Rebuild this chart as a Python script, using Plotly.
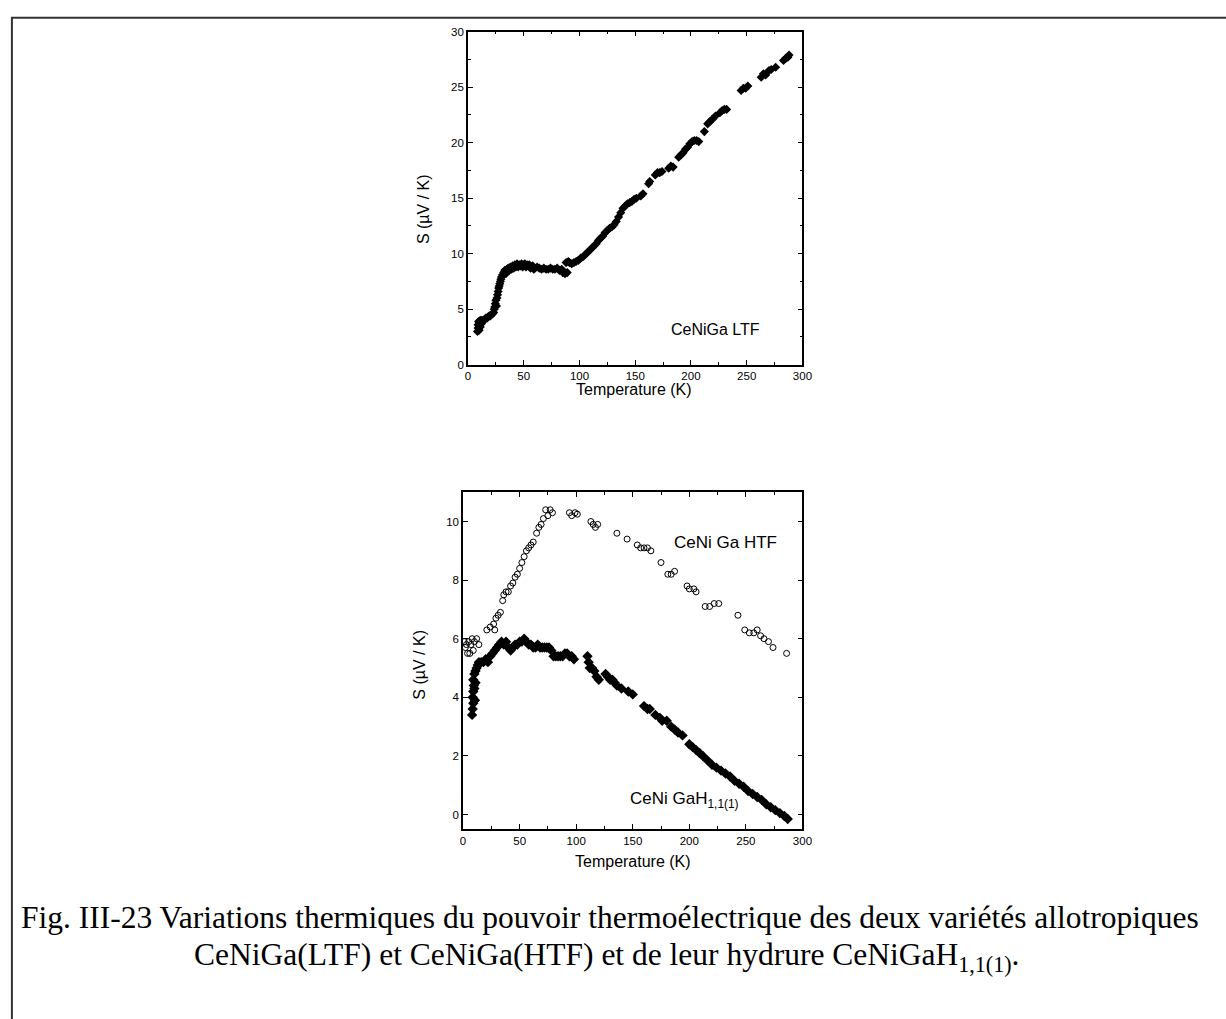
import plotly.graph_objects as go

# ---------------- data ----------------
ltf_T = [8.5, 9, 9, 9.5, 10, 10, 10.5, 11, 11, 12, 12.5, 13, 14, 15, 16, 17, 18, 19, 20, 21,
         22, 23, 23.5, 24, 24.5, 25, 25.5, 26, 26.5, 27, 27.5, 28, 28.5, 29, 29.5, 30, 31, 32, 33, 34,
         35, 36, 37, 38, 39, 40, 41, 42, 43, 44, 45, 46, 47, 48, 49, 50, 51, 52, 53, 54,
         55, 56, 57, 58, 59, 60, 62, 64, 66, 68, 70, 72, 74, 76, 78, 80, 82, 84, 85, 86,
         87, 88, 89, 90, 91, 93, 95, 97, 99, 101, 103, 105, 107, 109, 111, 113, 115, 117, 119, 121,
         123, 125, 127, 129, 131, 133, 135, 137, 139, 141, 143, 145, 147, 149, 151, 155, 157, 162, 163, 168,
         170, 172, 174, 180, 182, 184, 189, 191, 193, 195, 197, 199, 201, 203, 205, 207, 212, 215, 217, 219,
         222, 226, 228, 230, 232, 245, 247, 249, 251, 263, 265, 267, 270, 272, 276, 283, 285, 287, 288]
ltf_S = [3.0, 3.3, 3.6, 3.9, 3.1, 3.5, 3.8, 4.0, 3.4, 3.7, 4.0, 3.9, 4.0, 4.1, 4.2, 4.2, 4.3, 4.4, 4.4, 4.5,
         4.6, 4.7, 5.0, 5.2, 5.5, 5.8, 5.3, 6.0, 6.3, 6.6, 6.9, 7.1, 7.3, 7.5, 7.7, 7.9, 8.1, 8.3, 8.5, 8.2,
         8.6, 8.7, 8.5, 8.8, 8.6, 8.9, 8.7, 9.0, 8.8, 9.1, 8.8, 9.0, 8.9, 9.1, 8.8, 9.0, 9.1, 8.8, 9.0, 8.9,
         9.0, 8.7, 8.8, 8.9, 8.6, 8.7, 8.8, 8.7, 8.6, 8.7, 8.6, 8.6, 8.7, 8.6, 8.6, 8.7, 8.5, 8.6, 8.3, 8.4,
         8.2, 9.2, 8.3, 9.3, 9.2, 9.1, 9.2, 9.3, 9.4, 9.6, 9.7, 9.9, 10.1, 10.3, 10.5, 10.7, 10.9, 11.2, 11.4, 11.6,
         11.9, 12.1, 12.3, 12.4, 12.6, 12.9, 13.3, 13.7, 14.1, 14.3, 14.5, 14.6, 14.7, 14.9, 15.0, 15.2, 15.4, 16.3, 16.5, 17.1,
         17.3, 17.3, 17.4, 17.7, 17.9, 17.8, 18.7, 18.9, 19.1, 19.4, 19.6, 19.9, 20.1, 20.2, 20.2, 20.1, 21.0, 21.7, 21.9, 22.1,
         22.4, 22.7, 22.9, 23.0, 23.0, 24.7, 24.9, 24.9, 25.1, 25.9, 26.2, 26.1, 26.5, 26.6, 26.8, 27.4, 27.6, 27.7, 27.9]

htf_T = [1, 2, 3, 4, 5, 6, 7, 8, 9, 10, 12, 14, 21, 24, 27, 28, 29, 31, 33, 35,
         36, 38, 40, 42, 44, 46, 48, 50, 52, 54, 56, 58, 60, 62, 65, 67, 69, 71, 73, 75,
         77, 79, 94, 96, 99, 101, 113, 115, 117, 119, 136, 145, 154, 157, 160, 163, 166, 175, 181, 184,
         187, 198, 200, 204, 206, 214, 218, 222, 226, 243, 249, 253, 257, 260, 263, 266, 270, 274, 286]
htf_S = [5.9, 5.7, 5.8, 5.5, 5.9, 5.5, 5.8, 6.0, 5.6, 5.9, 6.0, 5.8, 6.3, 6.4, 6.5, 6.3, 6.7, 6.8, 6.9, 7.3,
         7.5, 7.6, 7.6, 7.8, 7.9, 8.1, 8.2, 8.4, 8.6, 8.8, 9.0, 9.1, 9.2, 9.3, 9.6, 9.8, 9.9, 10.1, 10.4, 10.2,
         10.4, 10.3, 10.3, 10.2, 10.3, 10.25, 10.0, 9.9, 9.8, 9.9, 9.6, 9.4, 9.2, 9.1, 9.1, 9.1, 9.0, 8.6, 8.2, 8.2,
         8.3, 7.8, 7.7, 7.7, 7.6, 7.1, 7.1, 7.2, 7.2, 6.8, 6.3, 6.2, 6.2, 6.3, 6.1, 6.0, 5.9, 5.7, 5.5]

hyd_T = [8, 8.5, 9, 8.5, 9, 9.5, 9, 10, 10, 10.5, 11, 11, 12, 13, 14, 16, 18, 20, 22, 24,
         26, 28, 30, 32, 34, 36, 38, 40, 42, 44, 46, 48, 50, 52, 54, 56, 58, 60, 62, 64,
         66, 68, 70, 72, 74, 76, 78, 80, 82, 84, 86, 88, 90, 92, 94, 96, 98, 110, 111, 112,
         114, 116, 118, 120, 126, 128, 130, 132, 134, 136, 140, 146, 150, 160, 163, 165, 170, 174, 176, 180,
         184, 187, 190, 194, 200, 203, 206, 209, 212, 216, 220, 224, 228, 232, 236, 240, 244, 248, 252, 256,
         260, 264, 268, 272, 276, 280, 284, 287]
hyd_S = [3.4, 3.6, 3.8, 4.0, 4.2, 4.4, 4.6, 4.3, 4.8, 3.9, 4.5, 4.9, 5.0, 5.1, 5.2, 5.2, 5.2, 5.3, 5.2, 5.4,
         5.5, 5.6, 5.7, 5.8, 5.9, 5.8, 5.9, 5.7, 5.6, 5.7, 5.8, 5.8, 5.9, 5.9, 6.0, 5.9, 5.8, 5.8, 5.7, 5.7,
         5.8, 5.7, 5.7, 5.7, 5.7, 5.7, 5.6, 5.4, 5.4, 5.4, 5.4, 5.4, 5.5, 5.5, 5.4, 5.4, 5.3, 5.4, 5.2, 5.0,
         5.0, 4.9, 4.7, 4.6, 4.8, 4.7, 4.6, 4.6, 4.5, 4.4, 4.3, 4.2, 4.1, 3.7, 3.6, 3.6, 3.4, 3.3, 3.2, 3.2,
         3.0, 2.9, 2.8, 2.7, 2.4, 2.3, 2.2, 2.1, 2.0, 1.85, 1.7, 1.6, 1.5, 1.4, 1.3, 1.15, 1.05, 0.95, 0.8, 0.7,
         0.6, 0.5, 0.35, 0.25, 0.15, 0.05, -0.05, -0.15]

top_yticks = [0, 5, 10, 15, 20, 25, 30]
bot_yticks = [0, 2, 4, 6, 8, 10]
xticks = [0, 50, 100, 150, 200, 250, 300]

y_title = "S (µV / K)"
x_title = "Temperature (K)"
label_ltf = "CeNiGa LTF"
label_htf = "CeNi Ga HTF"
label_hyd = "CeNi GaH<sub>1,1(1)</sub>"
caption1 = "Fig. III-23 Variations thermiques du pouvoir thermoélectrique des deux variétés allotropiques"
caption2 = "CeNiGa(LTF) et CeNiGa(HTF) et de leur hydrure CeNiGaH<sub>1,1(1)</sub>."

# ---------------- figure ----------------
W, H = 1226, 1019
def px(x): return x / W
def py(y): return 1 - y / H

fig = go.Figure()
fig.add_trace(go.Scatter(x=ltf_T, y=ltf_S, mode="markers", xaxis="x", yaxis="y",
                         marker=dict(symbol="diamond", size=7, color="black"), showlegend=False))
fig.add_trace(go.Scatter(x=htf_T, y=htf_S, mode="markers", xaxis="x2", yaxis="y2",
                         marker=dict(symbol="circle-open", size=6, color="black", line=dict(width=1)),
                         showlegend=False))
fig.add_trace(go.Scatter(x=hyd_T, y=hyd_S, mode="markers", xaxis="x2", yaxis="y2",
                         marker=dict(symbol="diamond", size=8, color="black"), showlegend=False))

tickfont = dict(family="Liberation Sans, Arial", size=11.5, color="black")
common = dict(showline=True, linecolor="black", linewidth=1.6, mirror="ticks", ticks="inside",
              ticklen=5, tickwidth=1.2, tickcolor="black", showgrid=False, zeroline=False,
              tickfont=tickfont)

fig.update_layout(
    width=W, height=H, margin=dict(l=0, r=0, t=0, b=0),
    paper_bgcolor="white", plot_bgcolor="white",
    xaxis=dict(domain=[px(470), px(808)], anchor="y", range=[0, 300], tickvals=xticks,
               minor=dict(dtick=25, ticks="inside", ticklen=3, tickcolor="black"), **common),
    yaxis=dict(domain=[py(363), py(26)], anchor="x", range=[0, 30], tickvals=top_yticks,
               minor=dict(dtick=2.5, ticks="inside", ticklen=3, tickcolor="black"), **common),
    xaxis2=dict(domain=[px(465), px(808)], anchor="y2", range=[0, 300], tickvals=xticks,
                minor=dict(dtick=25, ticks="inside", ticklen=3, tickcolor="black"), **common),
    yaxis2=dict(domain=[py(833), py(492)], anchor="x2", range=[-0.5, 11], tickvals=bot_yticks, **common),
)

labfont = dict(family="Liberation Sans, Arial", size=16, color="black")
ann = [
    dict(text=y_title, x=px(425), y=py(205), xref="paper", yref="paper", textangle=-90,
         showarrow=False, font=labfont, xanchor="center", yanchor="middle"),
    dict(text=y_title, x=px(421), y=py(667), xref="paper", yref="paper", textangle=-90,
         showarrow=False, font=labfont, xanchor="center", yanchor="middle"),
    dict(text=x_title, x=px(638), y=py(388), xref="paper", yref="paper",
         showarrow=False, font=labfont, xanchor="center", yanchor="middle"),
    dict(text=x_title, x=px(637), y=py(866), xref="paper", yref="paper",
         showarrow=False, font=labfont, xanchor="center", yanchor="middle"),
    dict(text=label_ltf, x=222, y=3.2, xref="x", yref="y", showarrow=False,
         font=dict(family="Liberation Sans, Arial", size=16, color="black"), xanchor="center"),
    dict(text=label_htf, x=232, y=9.3, xref="x2", yref="y2", showarrow=False,
         font=dict(family="Liberation Sans, Arial", size=17, color="black"), xanchor="center"),
    dict(text=label_hyd, x=196, y=0.5, xref="x2", yref="y2", showarrow=False,
         font=dict(family="Liberation Sans, Arial", size=17, color="black"), xanchor="center"),
    dict(text=caption1, x=px(613), y=py(922), xref="paper", yref="paper", showarrow=False,
         font=dict(family="Liberation Serif, Times New Roman", size=31.5, color="black"),
         xanchor="center", yanchor="middle"),
    dict(text=caption2, x=px(610), y=py(962), xref="paper", yref="paper", showarrow=False,
         font=dict(family="Liberation Serif, Times New Roman", size=31.5, color="black"),
         xanchor="center", yanchor="middle"),
]
fig.update_layout(annotations=ann)

fig.add_shape(type="rect", xref="paper", yref="paper", x0=px(9), x1=1.02, y0=-0.02, y1=py(12),
              line=dict(color="#333333", width=2), fillcolor="rgba(0,0,0,0)", layer="above")

fig.write_html("out.html", config={"displayModeBar": False},
               post_script="document.body.style.margin='0';document.body.style.overflow='hidden';")
